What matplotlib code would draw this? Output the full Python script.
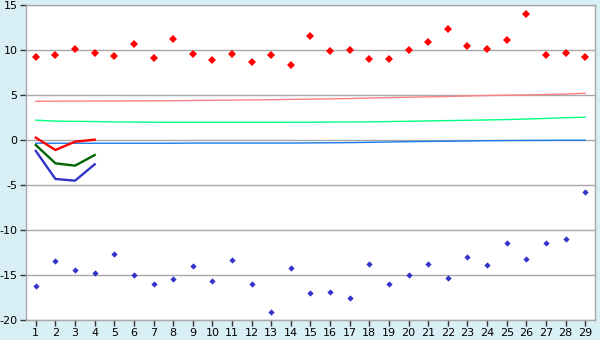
import matplotlib
matplotlib.use("Agg")
import matplotlib.pyplot as plt
import numpy as np

categories = list(range(1, 30))

red_points = [9.19, 9.41, 10.07, 9.63, 9.30, 10.63, 9.07, 11.18, 9.52, 8.85,
              9.52, 8.63, 9.41, 8.30, 11.56, 9.85, 9.96, 8.96, 8.96, 9.96,
              10.85, 12.30, 10.41, 10.07, 11.07, 13.96, 9.41, 9.63, 9.19]
blue_points = [-16.26, -13.48, -14.48, -14.81, -12.70, -15.04, -16.04, -15.48, -14.04, -15.70,
               -13.37, -16.04, -19.15, -14.26, -17.04, -16.93, -17.59, -13.81, -16.04, -15.04,
               -13.81, -15.37, -13.04, -13.92, -11.48, -13.26, -11.48, -11.04, -5.81]

salmon_line = [4.30, 4.31, 4.32, 4.33, 4.34, 4.35, 4.355, 4.37, 4.39, 4.41,
               4.43, 4.455, 4.48, 4.51, 4.54, 4.57, 4.61, 4.66, 4.71, 4.75,
               4.79, 4.84, 4.89, 4.94, 4.98, 5.01, 5.05, 5.11, 5.19]
green_line = [2.20, 2.10, 2.07, 2.05, 2.00, 1.99, 1.98, 1.97, 1.97, 1.97,
              1.97, 1.97, 1.97, 1.98, 1.98, 1.99, 2.00, 2.01, 2.05, 2.08,
              2.12, 2.16, 2.19, 2.23, 2.27, 2.33, 2.40, 2.48, 2.53]
zero_line = [-0.36, -0.36, -0.36, -0.36, -0.36, -0.36, -0.36, -0.36, -0.34, -0.34,
             -0.34, -0.34, -0.34, -0.34, -0.32, -0.31, -0.29, -0.26, -0.22, -0.18,
             -0.16, -0.14, -0.11, -0.08, -0.06, -0.05, -0.04, -0.03, -0.03]

short_x = [1, 2, 3, 4]
short_red = [0.26, -1.11, -0.19, 0.04]
short_green = [-0.56, -2.59, -2.85, -1.67]
short_blue = [-1.22, -4.33, -4.52, -2.70]

y_ticks = [-20, -15, -10, -5, 0, 5, 10, 15]

plt.rcParams['axes.unicode_minus'] = False
fig = plt.figure(figsize=(6, 3.4), dpi=100, facecolor='#d9eff6')
ax = fig.add_axes([26/600, 20/340, 569/600, 315/340])
ax.set_facecolor('white')

for y in y_ticks:
    ax.axhline(y, color='#a8a8a8', lw=1.0, zorder=1)

ax.plot(categories, salmon_line, color='#ff8080', lw=1.0, zorder=2)
ax.plot(categories, green_line, color='#00ff80', lw=1.0, zorder=2)
ax.plot(categories, zero_line, color='#1a7ae6', lw=1.0, zorder=2)

ax.plot(short_x, short_red, color='#ff0000', lw=1.7, zorder=3)
ax.plot(short_x, short_green, color='#006400', lw=1.7, zorder=3)
ax.plot(short_x, short_blue, color='#3333cc', lw=1.7, zorder=3)

ax.plot(categories, red_points, ls='none', marker='D', ms=3.6, color='#ff0000',
        markeredgewidth=0, zorder=4)
ax.plot(categories, blue_points, ls='none', marker='D', ms=3.2, color='#3333cc',
        markeredgewidth=0, zorder=4)

ax.set_xlim(0.5, 29.5)
ax.set_ylim(-20, 15)
ax.set_xticks(categories)
ax.set_xticklabels([str(c) for c in categories])
ax.set_yticks(y_ticks)
ax.set_yticklabels([str(t) for t in y_ticks])
ax.tick_params(axis='both', direction='out', length=4, width=1, color='#333333',
               labelsize=8, labelcolor='black', pad=2)
for s in ax.spines.values():
    s.set_color('#a8a8a8')
    s.set_linewidth(1.0)

fig.savefig('out.png', dpi=100, facecolor=fig.get_facecolor())
